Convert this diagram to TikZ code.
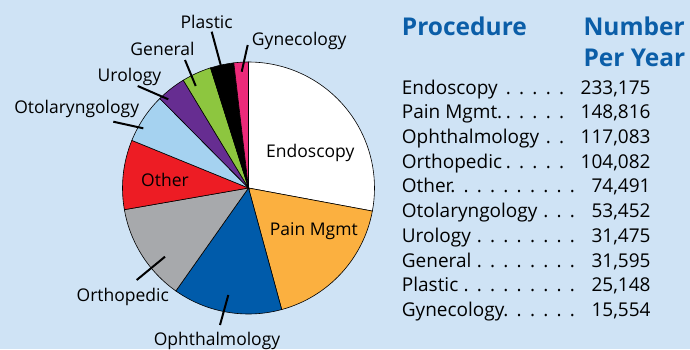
\documentclass[tikz,border=0pt]{standalone}
\usepackage{fontspec}
\setmainfont{Open Sans}
\definecolor{bgblue}{HTML}{CFE3F5}
\definecolor{headblue}{HTML}{0B5EA8}
\definecolor{painorange}{HTML}{FBB040}
\definecolor{ophblue}{HTML}{005BAA}
\definecolor{orthogray}{HTML}{A7A9AC}
\definecolor{otherred}{HTML}{ED1C24}
\definecolor{otoblue}{HTML}{A5D2F0}
\definecolor{uropurple}{HTML}{662D91}
\definecolor{gengreen}{HTML}{8DC63F}
\definecolor{gynpink}{HTML}{EC2A7A}
% a run of #1 leader dots, 13.3pt apart
\newcommand{\dotrun}[1]{\hbox to \dimexpr 13.3pt*#1\relax{\leaders\hbox to 13.3pt{\hss.\hss}\hfill}}
\tikzset{
  slice/.style={draw=black, line width=0.6pt},
  lbl/.style={inner sep=0pt, anchor=base, font=\fontsize{17.5}{20}\selectfont},
  leader/.style={line width=2pt},
  head/.style={inner sep=0pt, anchor=base west, text=headblue, font=\fontsize{24.5}{28}\selectfont\bfseries},
  row/.style={inner sep=0pt, anchor=base west, font=\fontsize{19}{22}\selectfont}
}

\begin{document}
\begin{tikzpicture}[x=1pt, y=1pt]

	\fill[bgblue] (0,0) rectangle (690,-349);
	\coordinate (c) at (248.5,-188);

	% pie slices, clockwise from the top
	\foreach \a/\b/\col in {90/-10.55/white, -10.55/-74.72/painorange, -74.72/-125.21/ophblue,
		-125.21/-170.09/orthogray, -170.09/-202.21/otherred, -202.21/-225.26/otoblue,
		-225.26/-238.83/uropurple, -238.83/-252.45/gengreen, -252.45/-263.30/black, -263.30/-270/gynpink}
		\filldraw[slice, fill=\col] (c) -- ++(\a:126) arc[start angle=\a, end angle=\b, radius=126] -- cycle;

	% labels
	\node[lbl] (endo) at (310.3,-157.3) {Endoscopy};
	\node[lbl] (pain) at (313.8,-235) {Pain Mgmt};
	\node[lbl] (other) at (165,-186.7) {Other};
	\node[lbl] (oph) at (217,-345) {Ophthalmology};
	\node[lbl] (ortho) at (122.8,-301) {Orthopedic};
	\node[lbl] (oto) at (76.7,-113.3) {Otolaryngology};
	\node[lbl] (uro) at (129.5,-81) {Urology};
	\node[lbl] (gen) at (162.5,-55) {General};
	\node[lbl] (plastic) at (206.7,-28.3) {Plastic};
	\node[lbl] (gyn) at (299.2,-45.7) {Gynecology};

	% leader lines
	\coordinate (plastic-a) at (211.7,-31.7);  \coordinate (plastic-b) at (220.7,-65);
	\coordinate (gyn-a) at (247.7,-45);        \coordinate (gyn-b) at (241.7,-71.7);
	\coordinate (gen-a) at (185,-60);          \coordinate (gen-b) at (195.7,-86);
	\coordinate (uro-a) at (137.7,-86);        \coordinate (uro-b) at (168.3,-99.3);
	\coordinate (oto-a) at (113.3,-121.7);     \coordinate (oto-b) at (143.3,-128.3);
	\coordinate (ortho-a) at (136.7,-280);     \coordinate (ortho-b) at (165,-256.7);
	\coordinate (oph-a) at (220,-325);         \coordinate (oph-b) at (228.3,-295);
	\foreach \n in {plastic,gyn,gen,uro,oto,ortho,oph}
		\draw[leader] (\n-a) -- (\n-b);

	% table
	\node[head] (proc) at (401.7,-35) {Procedure};
	\node[head] (number) at (583.3,-35) {Number};
	\node[head] (peryear) at (583.3,-66.7) {Per Year};
	\foreach \name/\num/\n [count=\i] in {Endoscopy/{233,175}/5, Pain Mgmt./{148,816}/5, Ophthalmology/{117,083}/2,
		Orthopedic/{104,082}/5, Other/{74,491}/10, Otolaryngology/{53,452}/3, Urology/{31,475}/8,
		General/{31,595}/8, Plastic/{25,148}/9, Gynecology/{15,554}/6}
	{
		\node[row] (name\i) at (401.7,{-94-24.74*(\i-1)}) {\name};
		\node[row, anchor=base east] (num\i) at (650.7,{-94-24.74*(\i-1)}) {\num};
		\node[row, anchor=base east] (dots\i) at ([xshift=-12pt]num\i.base west) {\dotrun{\n}};
	}

\end{tikzpicture}
\end{document}
